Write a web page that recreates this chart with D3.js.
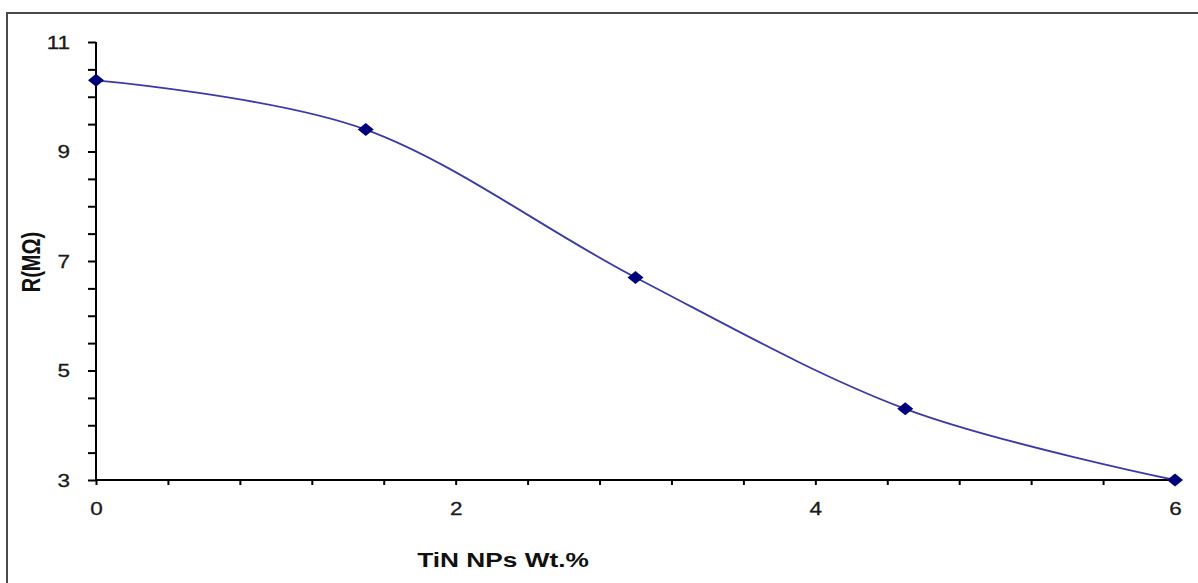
<!DOCTYPE html>
<html>
<head>
<meta charset="utf-8">
<script src="https://cdn.jsdelivr.net/npm/d3@7"></script>
<style>
  body { margin: 0; background: #fff; }
  svg { display: block; font-family: "Liberation Sans", Arial, sans-serif; }
</style>
</head>
<body>
<div id="chart"></div>
<script>
// data
const WT = [0, 1.5, 3, 4.5, 6];
const R = [10.3, 9.4, 6.7, 4.3, 3.0];
const XTICKS = [0, 2, 4, 6];
const YTICKS = [3, 5, 7, 9, 11];

var width = 1198, height = 583;
var mLeft = 96, mRight = 1175, mTop = 42, mBottom = 480;
var SX = 1.25; // the source picture is stretched sideways

var svg = d3.select("#chart").append("svg")
    .attr("width", width).attr("height", height);

// outer frame
svg.append("rect")
    .attr("x", 7).attr("y", 13)
    .attr("width", width + 20).attr("height", height + 20)
    .attr("fill", "none").attr("stroke", "#4a4a4a").attr("stroke-width", 2);

var x = d3.scaleLinear().domain([0, 6]).range([mLeft, mRight]);
var y = d3.scaleLinear().domain([3, 11]).range([mBottom, mTop]);

// x axis: minor every 0.4, labels at 0,2,4,6
var xAxis = d3.axisBottom(x)
    .tickValues(d3.range(0, 6.001, 0.4))
    .tickSize(5)
    .tickFormat(function(d) { return XTICKS.some(t => Math.abs(t - d) < 1e-6) ? d3.format("d")(Math.round(d)) : ""; });

var gx = svg.append("g").attr("transform", "translate(0," + mBottom + ")").call(xAxis);
gx.attr("font-size", null).attr("font-family", null);
gx.select(".domain").attr("d", "M" + mLeft + ",0H" + mRight).attr("stroke", "#000").attr("stroke-width", 2);
gx.selectAll(".tick line").attr("stroke", "#000").attr("stroke-width", 2);
gx.selectAll(".tick text")
    .attr("font-size", 18).attr("fill", "#1a1a1a")
    .attr("stroke", "#1a1a1a").attr("stroke-width", 0.3)
    .attr("y", 35).attr("dy", null)
    .attr("transform", "scale(" + SX + ",1)");

// y axis: minor every 0.5, labels at 3,5,7,9,11
var yAxis = d3.axisLeft(y)
    .tickValues(d3.range(3, 11.001, 0.5))
    .tickSize(8)
    .tickFormat(function(d) { return YTICKS.includes(d) ? d : ""; });

var gy = svg.append("g").attr("transform", "translate(" + mLeft + ",0)").call(yAxis);
gy.attr("font-size", null).attr("font-family", null);
gy.select(".domain").attr("d", "M0," + mTop + "V" + mBottom).attr("stroke", "#000").attr("stroke-width", 2);
gy.selectAll(".tick line").attr("stroke", "#000").attr("stroke-width", 2);
gy.selectAll(".tick text")
    .attr("font-size", 18).attr("fill", "#1a1a1a")
    .attr("stroke", "#1a1a1a").attr("stroke-width", 0.3)
    .attr("x", -26 / SX).attr("dy", "0.36em")
    .attr("transform", "scale(" + SX + ",1)");

// smoothed line
var line = d3.line()
    .x(function(d, i) { return x(WT[i]); })
    .y(function(d) { return y(d); })
    .curve(d3.curveCatmullRom.alpha(0));

svg.append("path")
    .datum(R)
    .attr("d", line)
    .attr("fill", "none")
    .attr("stroke", "#3b3ba6")
    .attr("stroke-width", 1.8);

// diamond markers
svg.selectAll(".pt").data(R).enter().append("path")
    .attr("class", "pt")
    .attr("transform", function(d, i) { return "translate(" + x(WT[i]) + "," + y(d) + ")"; })
    .attr("d", "M0,-6.5L8,0L0,6.5L-8,0Z")
    .attr("fill", "#00007a");

// axis titles
svg.append("text")
    .attr("transform", "translate(503,567) scale(" + SX + ",1)")
    .attr("text-anchor", "middle")
    .attr("font-size", 21).attr("font-weight", "bold")
    .attr("fill", "#111")
    .text("TiN NPs Wt.%");

svg.append("text")
    .attr("transform", "translate(40,262) scale(" + SX + ",1) rotate(-90)")
    .attr("text-anchor", "middle")
    .attr("font-size", 20).attr("font-weight", "bold")
    .attr("fill", "#111")
    .text("R(MΩ)");
</script>
</body>
</html>
